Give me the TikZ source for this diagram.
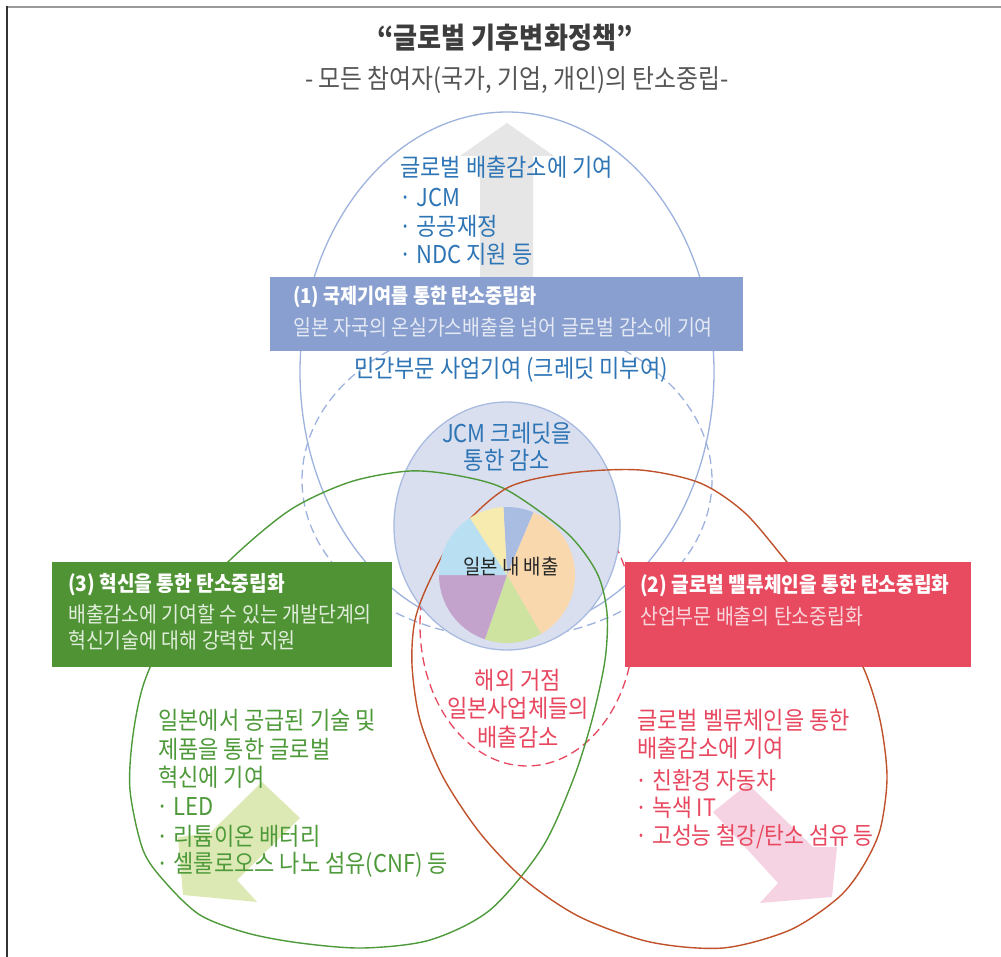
\documentclass[tikz,border=0pt]{standalone}
\usepackage{fontspec}
\setmainfont{Noto Sans CJK KR}[FakeStretch=0.9]
\definecolor{titlec}{HTML}{3D3D3D}
\definecolor{subc}{HTML}{555555}
\definecolor{bline}{HTML}{9DB3DE}
\definecolor{btext}{HTML}{2E75B6}
\definecolor{boxone}{HTML}{889FCF}
\definecolor{boxonesub}{HTML}{E4E9F4}
\definecolor{jcmfill}{HTML}{D9DFEF}
\definecolor{jcmline}{HTML}{A9BBE0}
\definecolor{gline}{HTML}{4E9A3A}
\definecolor{gtext}{HTML}{4E9A3A}
\definecolor{rline}{HTML}{C0522B}
\definecolor{rtext}{HTML}{E8485F}
\definecolor{boxthree}{HTML}{4F9335}
\definecolor{boxthreesub}{HTML}{E2EEDC}
\definecolor{boxtwo}{HTML}{E84A5F}
\definecolor{boxtwosub}{HTML}{F8D8DC}
\definecolor{grayarrow}{HTML}{E6E6E6}
\definecolor{greenarrow}{HTML}{DDE9B5}
\definecolor{pinkarrow}{HTML}{F6D3E2}
\definecolor{pblue}{HTML}{A9BDE3}
\definecolor{porange}{HTML}{F9D8AE}
\definecolor{pgreen}{HTML}{CFE3A0}
\definecolor{ppurple}{HTML}{C3A3CC}
\definecolor{plblue}{HTML}{B9E0F2}
\definecolor{pyellow}{HTML}{F8EBB0}
\tikzset{
  txt/.style={inner sep=0pt, anchor=west, font=\fontsize{24.5}{28}\selectfont},
  ctxt/.style={inner sep=0pt, anchor=center, font=\fontsize{24.5}{28}\selectfont},
  boxtitle/.style={inner sep=0pt, anchor=west, text=white, font=\fontsize{21.3}{24}\selectfont\bfseries},
  boxsub/.style={inner sep=0pt, anchor=west, font=\fontsize{21.6}{24}\selectfont},
}
\newcommand{\pieslice}[3]{\fill[#1] (pc) -- ++(#2:68) arc[start angle=#2, end angle=#3, radius=68] -- cycle;}
\begin{document}
\begin{tikzpicture}[x=1pt, y=-1pt]
\useasboundingbox (0,0) rectangle (1001,957);
\fill[white] (0,0) rectangle (1001,957);
% frame
\draw[color=gray!80, line width=2.5pt] (7,7) -- (1001,7);
\draw[color=black!80, line width=1.5pt] (7,6) -- (7,957);
% gray up arrow
\fill[grayarrow] (507,123) -- (554,156) -- (533,156) -- (533,280) -- (480,280) -- (480,156) -- (460,156) -- cycle;
% blue ellipses
\draw[bline, line width=1.3pt] (507,372) ellipse [x radius=207, y radius=260];
\draw[bline, line width=1.3pt, dash pattern=on 9pt off 5pt] (507,480) ellipse [x radius=205, y radius=158];
% red dashed ellipse
\draw[rtext, line width=1.3pt, dash pattern=on 9pt off 5pt] (527,625) ellipse [x radius=107, y radius=141];
% JCM circle
\draw[fill=jcmfill, draw=jcmline, line width=1.3pt] (507,526) ellipse [x radius=113, y radius=124];
% arrows
\fill[greenarrow] (262,782) -- (300,818) -- (237,880) -- (257,902) -- (183,895) -- (178,837) -- (210,833) -- cycle;
\fill[pinkarrow] (713,812) -- (748,784) -- (813,847) -- (837,847) -- (832,897) -- (760,903) -- (778,883) -- cycle;
% green and red circles
\draw[gline, line width=1.4pt] plot[smooth cycle, tension=0.5] coordinates {
 (410,471) (460,476) (507,490) (567,533) (597,573) (607,613) (605,660) (592,720)
 (573,780) (542,848) (490,910) (430,940) (363,948) (300,943) (247,933) (200,915)
 (165,882) (143,850) (130,790) (133,735) (145,680) (175,620) (230,560) (290,510) (350,482)};
\draw[rline, line width=1.4pt] plot[smooth cycle, tension=0.5] coordinates {
 (457,533) (507,488) (570,473) (640,470) (700,483) (745,513) (787,562) (830,612)
 (863,667) (880,720) (887,777) (880,830) (862,868) (838,898) (790,930) (723,948)
 (650,942) (580,917) (525,880) (480,833) (443,777) (420,720) (412,665) (415,620) (430,580)};
% pie
\coordinate (pc) at (507,575);
\pieslice{pblue}{-67}{-93}
\pieslice{porange}{60}{-67}
\pieslice{pgreen}{109}{60}
\pieslice{ppurple}{180}{109}
\pieslice{plblue}{-123}{-180}
\pieslice{pyellow}{-93}{-123}
% boxes
\fill[boxone] (270,277) rectangle (743,351);
\fill[boxthree] (52,562) rectangle (392,667);
\fill[boxtwo] (625,562) rectangle (971,667);
% title
\node[inner sep=0pt, text=titlec, font=\fontsize{29}{34}\selectfont\bfseries] (title) at (505,38) {“글로벌 기후변화정책”};
\node[inner sep=0pt, text=subc, font=\fontsize{26.5}{30}\selectfont] (subtitle) at (517,80) {- 모든 참여자(국가, 기업, 개인)의 탄소중립-};
% blue texts
\node[txt, text=btext] (b1) at (400,167) {글로벌 배출감소에 기여};
\node[txt, text=btext] (b2) at (399,198) {· JCM};
\node[txt, text=btext] (b3) at (399,226) {· 공공재정};
\node[txt, text=btext] (b4) at (399,254) {· NDC 지원 등};
\node[boxtitle, font=\fontsize{20.6}{24}\selectfont\bfseries] (t1) at (293,297) {(1) 국제기여를 통한 탄소중립화};
\node[boxsub, text=boxonesub] (s1) at (293,327) {일본 자국의 온실가스배출을 넘어 글로벌 감소에 기여};
\node[ctxt, text=btext] (priv) at (511,370) {민간부문 사업기여 (크레딧 미부여)};
\node[ctxt, text=btext] (jcm1) at (507,433) {JCM 크레딧을};
\node[ctxt, text=btext] (jcm2) at (507,460) {통한 감소};
\node[inner sep=0pt, font=\fontsize{21}{24}\selectfont, text=black!85] (dom) at (511,567) {일본 내 배출};
% box 3
\node[boxtitle] (t3) at (68,585) {(3) 혁신을 통한 탄소중립화};
\node[boxsub, text=boxthreesub] (s3a) at (68,614) {배출감소에 기여할 수 있는 개발단계의};
\node[boxsub, text=boxthreesub] (s3b) at (68,640) {혁신기술에 대해 강력한 지원};
% box 2
\node[boxtitle] (t2) at (640,586) {(2) 글로벌 밸류체인을 통한 탄소중립화};
\node[boxsub, text=boxtwosub] (s2) at (640,616) {산업부문 배출의 탄소중립화};
% overseas
\node[ctxt, text=rtext] (o1) at (518,680) {해외 거점};
\node[ctxt, text=rtext] (o2) at (518,708) {일본사업체들의};
\node[ctxt, text=rtext] (o3) at (518,737) {배출감소};
% green texts
\node[txt, text=gtext] (g1) at (158,720) {일본에서 공급된 기술 및};
\node[txt, text=gtext] (g2) at (158,749) {제품을 통한 글로벌};
\node[txt, text=gtext] (g3) at (158,777) {혁신에 기여};
\node[txt, text=gtext] (g4) at (156,807) {· LED};
\node[txt, text=gtext] (g5) at (156,836) {· 리튬이온 배터리};
\node[txt, text=gtext] (g6) at (156,865) {· 셀룰로오스 나노 섬유(CNF) 등};
% red texts
\node[txt, text=rtext] (r1) at (637,720) {글로벌 벨류체인을 통한};
\node[txt, text=rtext] (r2) at (637,748) {배출감소에 기여};
\node[txt, text=rtext, font=\fontsize{24}{28}\selectfont] (r3) at (635,780) {· 친환경 자동차};
\node[txt, text=rtext, font=\fontsize{24}{28}\selectfont] (r4) at (635,808) {· 녹색 IT};
\node[txt, text=rtext, font=\fontsize{24}{28}\selectfont] (r5) at (635,837) {· 고성능 철강/탄소 섬유 등};
\end{tikzpicture}
\end{document}
